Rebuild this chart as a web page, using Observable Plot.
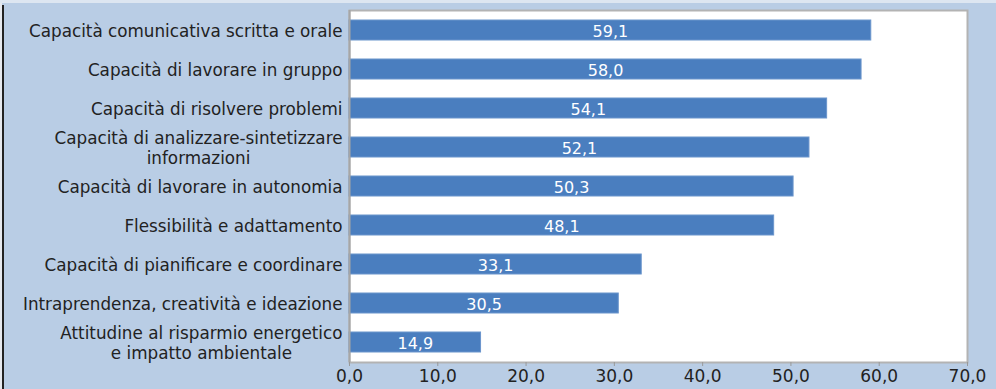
<!DOCTYPE html>
<html>
<head>
<meta charset="utf-8">
<script src="https://cdn.jsdelivr.net/npm/d3@7"></script>
<script src="https://cdn.jsdelivr.net/npm/@observablehq/plot@0.6"></script>
<style>
  html, body { margin: 0; padding: 0; background: #b9cde5; }
  #wrap { position: relative; width: 996px; height: 389px; overflow: hidden; }
  #edge { position: absolute; left: 2px; top: 5px; width: 2px; height: 384px; background: #222; }
  #edgeL { position: absolute; left: 0; top: 0; width: 2px; height: 389px; background: #e6e9ee; }
  #edgeT { position: absolute; left: 0; top: 0; width: 996px; height: 3px; background: #dde6f1; }
</style>
</head>
<body>
<div id="wrap"><div id="edgeL"></div><div id="edgeT"></div><div id="edge"></div></div>
<script>
const categories = [
  "Capacità comunicativa scritta e orale",
  "Capacità di lavorare in gruppo",
  "Capacità di risolvere problemi",
  "Capacità di analizzare-sintetizzare\ninformazioni",
  "Capacità di lavorare in autonomia",
  "Flessibilità e adattamento",
  "Capacità di pianificare e coordinare",
  "Intraprendenza, creatività e ideazione",
  "Attitudine al risparmio energetico\ne impatto ambientale"
];
const values = [59.1, 58.0, 54.1, 52.1, 50.3, 48.1, 33.1, 30.5, 14.9];
const xTicks = [0, 10, 20, 30, 40, 50, 60, 70];

const data = categories.map((c, i) => ({category: c, value: values[i]}));
const fmt = v => v.toFixed(1).replace(".", ",");
const font = "'DejaVu Sans', sans-serif";

const chart = Plot.plot({
  width: 996,
  height: 389,
  marginLeft: 349,
  marginRight: 29,
  marginTop: 10,
  marginBottom: 27,
  style: {background: "#b9cde5", fontFamily: font, fontSize: "15px", color: "#222", overflow: "visible"},
  x: {domain: [0, 70], ticks: xTicks, tickFormat: fmt, label: null},
  y: {domain: categories, label: null, paddingInner: 0.5, paddingOuter: 0.25, align: 0.5},
  marks: [
    Plot.frame({fill: "white", stroke: "#b3b3b3", strokeWidth: 2}),
    Plot.barX(data, {y: "category", x: "value", fill: "#4a7ebf", stroke: "#6b95cc", strokeWidth: 1}),
    Plot.text(data, {y: "category", x: d => d.value / 2, text: d => fmt(d.value), fill: "white", fontSize: 16, dy: 1}),
    Plot.axisX({ticks: xTicks, tickFormat: fmt, tickSize: 4, stroke: "#999", fontSize: 17, tickPadding: 3, fill: "#222"}),
    Plot.axisY({tickSize: 0, tickPadding: 7, fontSize: 16.8, lineHeight: 1.2, fill: "#222"}),
    Plot.ruleX([0], {stroke: "#a6a6a6", strokeWidth: 2}),
    Plot.ruleY([0], {stroke: "#a6a6a6", strokeWidth: 2})
  ]
});
const wrap = document.getElementById("wrap");
wrap.insertBefore(chart, wrap.firstChild);

// center multi-line y labels within their block (right-aligned block)
chart.querySelectorAll("g[aria-label='y-axis tick label'] text").forEach(t => {
  const spans = t.querySelectorAll("tspan");
  if (spans.length > 1) {
    let w = 0;
    spans.forEach(s => { w = Math.max(w, s.getComputedTextLength()); });
    t.setAttribute("text-anchor", "middle");
    const x0 = +(t.getAttribute("x") || 0);
    t.setAttribute("x", x0 - w / 2);
    spans.forEach(s => { if (s.hasAttribute("x")) s.setAttribute("x", x0 - w / 2); });
  }
});
</script>
</body>
</html>
